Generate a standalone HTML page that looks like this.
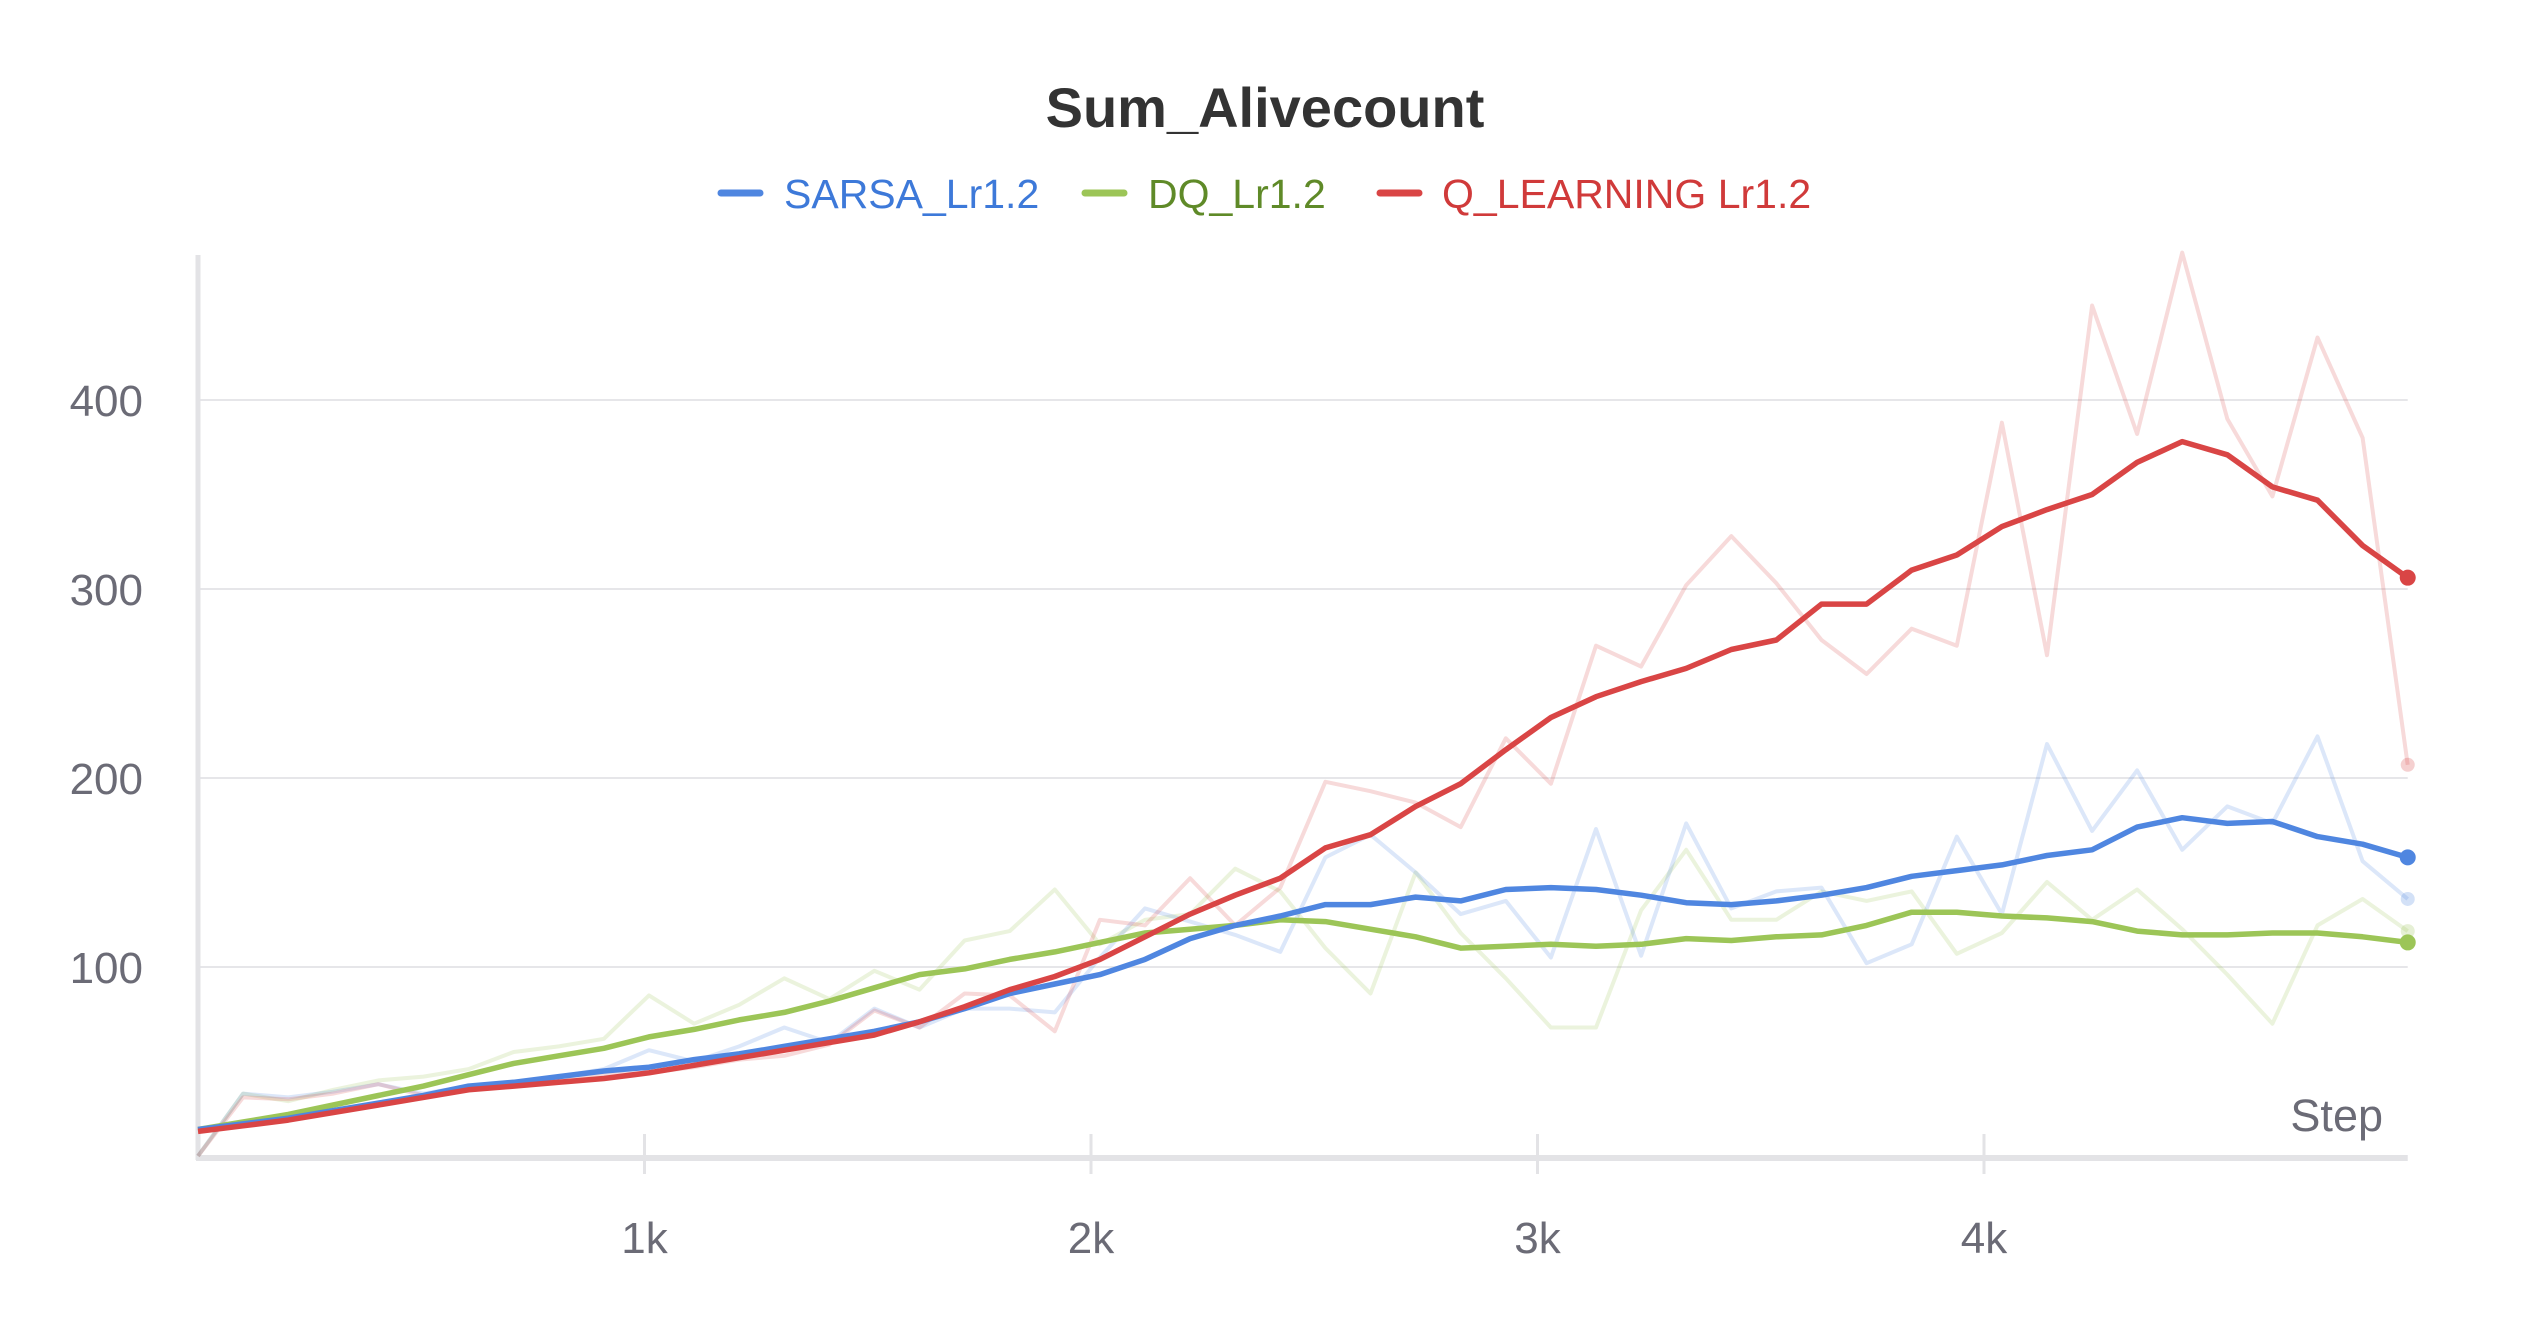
<!DOCTYPE html>
<html><head><meta charset="utf-8"><style>
body{margin:0;background:#fff;}
svg text{font-family:"Liberation Sans","DejaVu Sans",sans-serif;}
</style></head><body>
<svg id="chart" width="2528" height="1328" xmlns="http://www.w3.org/2000/svg">
<text x="1265" y="127" text-anchor="middle" font-size="56" font-weight="bold" fill="#333">Sum_Alivecount</text>
<g font-size="41">
 <g><line x1="721" y1="193" x2="760" y2="193" stroke="#4f86e0" stroke-width="7" stroke-linecap="round"/><text x="784" y="208" fill="#3d79d9">SARSA_Lr1.2</text></g>
 <g><line x1="1085" y1="193" x2="1124" y2="193" stroke="#9cc557" stroke-width="7" stroke-linecap="round"/><text x="1148" y="208" fill="#5f8a28">DQ_Lr1.2</text></g>
 <g><line x1="1380" y1="193" x2="1419" y2="193" stroke="#d94545" stroke-width="7" stroke-linecap="round"/><text x="1442" y="208" fill="#d03a3a">Q_LEARNING Lr1.2</text></g>
</g>
<g id="grid"></g>
<g id="axes"></g>
<g id="series"></g>
<text x="2383" y="1131" text-anchor="end" font-size="45" fill="#6b6b76">Step</text>
</svg>
<script>
const yTicks=[100,200,300,400];
const xTicks=[1000,2000,3000,4000];
const xTickLabels=["1k","2k","3k","4k"];
const stepSize=101;
const redRaw=[0,31,30,33,38,32,36,37,40,43,44,47,51,53,59,77,68,86,85,66,125,122,147,122,142,198,193,187,174,221,197,270,259,302,328,303,273,255,279,270,388,265,450,382,478,390,349,433,380,207];
const redSmooth=[13,16,19,23,27,31,35,37,39,41,44,48,52,56,60,64,71,79,88,95,104,116,128,138,147,163,170,185,197,215,232,243,251,258,268,273,292,292,310,318,333,342,350,367,378,371,354,347,323,306];
const blueRaw=[0,33,31,34,38,33,37,38,42,46,56,50,58,68,60,78,68,78,78,76,105,131,124,117,108,158,170,150,128,135,105,173,106,176,131,140,142,102,112,169,128,218,172,204,162,185,176,222,156,136];
const blueSmooth=[14,17,20,24,28,32,37,39,42,45,47,51,54,58,62,66,71,78,86,91,96,104,115,122,127,133,133,137,135,141,142,141,138,134,133,135,138,142,148,151,154,159,162,174,179,176,177,169,165,158];
const greenRaw=[0,33,29,35,40,42,46,55,58,62,85,70,80,94,83,98,88,114,119,141,112,125,128,152,140,110,86,150,118,94,68,68,130,162,125,125,140,135,140,107,118,145,125,141,120,96,70,122,136,119];
const greenSmooth=[14,18,22,27,32,37,43,49,53,57,63,67,72,76,82,89,96,99,104,108,113,118,120,122,125,124,120,116,110,111,112,111,112,115,114,116,117,122,129,129,127,126,124,119,117,117,118,118,116,113];

const NS="http://www.w3.org/2000/svg";
const X0=198,XPER=0.4465,Y0=1156,YPER=1.89;
function xs(s){return X0+s*XPER;}
function ys(v){return Y0-v*YPER;}
function mk(tag,attrs,parent){const e=document.createElementNS(NS,tag);for(const k in attrs)e.setAttribute(k,attrs[k]);parent.appendChild(e);return e;}
const grid=document.getElementById('grid'),axes=document.getElementById('axes'),series=document.getElementById('series');
const xEnd=xs(49*stepSize);
yTicks.forEach(v=>{
 const l=mk('line',{x1:X0,x2:xEnd,y1:ys(v),y2:ys(v),stroke:'#e6e6e9','stroke-width':2},grid);
 
 
 const t=mk('text',{x:143,y:ys(v)+16,'text-anchor':'end','font-size':44,fill:'#6b6b76'},axes);
 t.textContent=v;
 
 
});
const ya=mk('line',{x1:X0,x2:X0,y1:255,y2:Y0+4,stroke:'#e3e3e6','stroke-width':5},axes);


const xa=mk('line',{x1:X0-2,x2:xEnd,y1:Y0+2,y2:Y0+2,stroke:'#e3e3e6','stroke-width':6},axes);


xTicks.forEach((s,i)=>{
 const tk=mk('line',{x1:xs(s),x2:xs(s),y1:Y0-22,y2:Y0+18,stroke:'#e3e3e6','stroke-width':3},axes);
 
 
 const t=mk('text',{x:xs(s),y:1253,'text-anchor':'middle','font-size':44,fill:'#6b6b76'},axes);
 t.textContent=xTickLabels[i];
 
 
});
function pts(arr){return arr.map((v,i)=>xs(i*stepSize).toFixed(1)+','+ys(v).toFixed(1)).join(' ');}
function drawRaw(arr,color,name){
 const p=mk('polyline',{points:pts(arr),fill:'none',stroke:color,'stroke-width':4,'stroke-opacity':0.2,'stroke-linejoin':'round'},series);
 
 
 const n=arr.length-1;
 const c=mk('circle',{cx:xs(n*stepSize),cy:ys(arr[n]),r:7,fill:color,'fill-opacity':0.25},series);
 
 
}
function drawSmooth(arr,color,name){
 const p=mk('polyline',{points:pts(arr),fill:'none',stroke:color,'stroke-width':5.5,'stroke-linejoin':'round'},series);
 
 
 const n=arr.length-1;
 const c=mk('circle',{cx:xs(n*stepSize),cy:ys(arr[n]),r:8,fill:color},series);
 
 
}
drawRaw(greenRaw,'#9cc557','dq-raw-line');
drawRaw(blueRaw,'#4f86e0','sarsa-raw-line');
drawRaw(redRaw,'#d94545','q-learning-raw-line');
drawSmooth(greenSmooth,'#9cc557','dq-smoothed-line');
drawSmooth(blueSmooth,'#4f86e0','sarsa-smoothed-line');
drawSmooth(redSmooth,'#d94545','q-learning-smoothed-line');
</script>
</body></html>
